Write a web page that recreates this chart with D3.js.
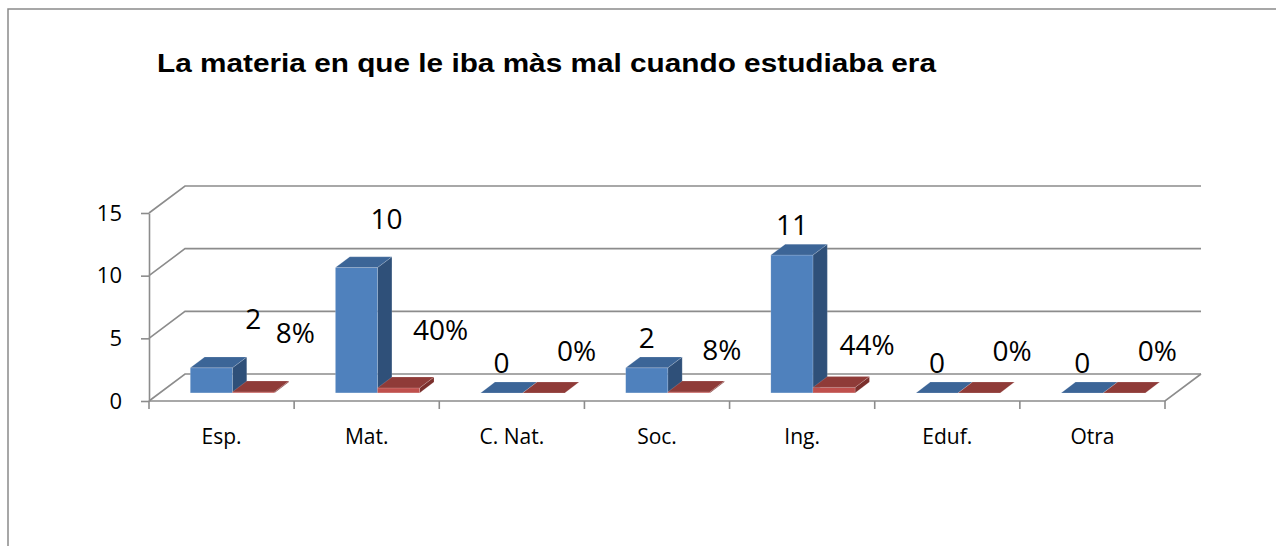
<!DOCTYPE html>
<html>
<head>
<meta charset="utf-8">
<script src="https://cdn.jsdelivr.net/npm/d3@7"></script>
<style>
  body { margin: 0; background: #fff; }
  svg { display: block; }
</style>
</head>
<body>
<svg width="1276" height="546"></svg>
<script>
// values
const categories = ["Esp.", "Mat.", "C. Nat.", "Soc.", "Ing.", "Eduf.", "Otra"];
const counts = [2, 10, 0, 2, 11, 0, 0];
const shares = [0.08, 0.40, 0, 0.08, 0.44, 0, 0];
const yTicks = [0, 5, 10, 15];
const title = "La materia en que le iba màs mal cuando estudiaba era";

const svg = d3.select("svg");
const gridColor = "#8c8c8c";
const labelFont = "'Open Sans', Carlito, Calibri, sans-serif";

// chart frame (only left and top edges are inside the picture)
svg.append("path")
  .attr("d", "M8,546 L8,9 L1276,9")
  .attr("fill", "none")
  .attr("stroke", "#8a8a8a")
  .attr("stroke-width", 1.5);

svg.append("text")
  .attr("x", 157)
  .attr("y", 72)
  .attr("font-family", "'Liberation Sans', Arial, sans-serif")
  .attr("font-weight", "bold")
  .attr("font-size", 26)
  .attr("textLength", 779)
  .attr("lengthAdjust", "spacingAndGlyphs")
  .text(title);

const x = d3.scaleBand().domain(categories).range([149, 1165]);
const y = d3.scaleLinear().domain([0, 15]).range([401, 213]);

// 3d depth of the floor / walls, and where the bars sit inside it
const depth = { dx: 36, dy: -27 };
const barFront = 0.3, barBack = 0.7;
const barW = x.bandwidth() * 0.29;

// back wall gridlines + side wall diagonals
const grid = svg.append("g").attr("fill", "none").attr("stroke", gridColor).attr("stroke-width", 1.6);
yTicks.forEach(t => {
  grid.append("path")
    .attr("d", `M${x.range()[0]},${y(t)} L${x.range()[0] + depth.dx},${y(t) + depth.dy} L${x.range()[1] + depth.dx},${y(t) + depth.dy}`);
});
// floor front edge and right edge
grid.append("path")
  .attr("d", `M${x.range()[0]},${y(0)} L${x.range()[1]},${y(0)} L${x.range()[1] + depth.dx},${y(0) + depth.dy}`);

// value axis
const yAxis = svg.append("g")
  .attr("transform", `translate(${x.range()[0]},0)`)
  .call(d3.axisLeft(y).tickValues(yTicks).tickSize(8).tickSizeOuter(0).tickPadding(19));
yAxis.select(".domain").attr("stroke", gridColor).attr("stroke-width", 1.6);
yAxis.selectAll(".tick line").attr("stroke", gridColor).attr("stroke-width", 1.6);
yAxis.selectAll(".tick text")
  .attr("font-family", labelFont).attr("font-size", 22).attr("fill", "#000");

// category axis: ticks on band edges, labels in the middle
const edges = categories.map(c => x(c)).concat([x.range()[1]]);
svg.append("g").selectAll("line").data(edges).join("line")
  .attr("x1", d => d).attr("x2", d => d)
  .attr("y1", y(0)).attr("y2", y(0) + 8)
  .attr("stroke", gridColor).attr("stroke-width", 1.6);

const xAxis = svg.append("g")
  .attr("transform", `translate(0,${y(0)})`)
  .call(d3.axisBottom(x).tickSize(0).tickPadding(28));
xAxis.select(".domain").remove();
xAxis.selectAll(".tick text")
  .attr("font-family", labelFont).attr("font-size", 21).attr("fill", "#000");

const series = [
  { values: counts, fmt: d3.format("d"), front: "#4f81bd", top: "#3c6597", side: "#2f5079", off: -1,
    labelDx: 0, labelDy: -31, nudge: { "Esp.": [42, -19], "Mat.": [30, -19] } },
  { values: shares, fmt: d3.format(".0%"), front: "#c0504d", top: "#8f3b38", side: "#7b2f2c", off: 0,
    labelDx: 33, labelDy: -43, nudge: { "Esp.": [9, -17], "Mat.": [9, -16] } }
];

const fdx = depth.dx * barFront, fdy = depth.dy * barFront;
const bdx = depth.dx * (barBack - barFront), bdy = depth.dy * (barBack - barFront);

const bars = svg.append("g");
categories.forEach((c, i) => {
  series.forEach(s => {
    const v = s.values[i];
    const x0 = x(c) + x.bandwidth() / 2 + s.off * barW + fdx;
    const x1 = x0 + barW;
    const yT = y(v) + fdy, yB = y(0) + fdy;
    const g = bars.append("g").attr("stroke", "rgba(255,255,255,0.25)").attr("stroke-width", 0.6);
    g.append("path")
      .attr("d", `M${x1},${yT} L${x1 + bdx},${yT + bdy} L${x1 + bdx},${yB + bdy} L${x1},${yB} Z`)
      .attr("fill", s.side);
    g.append("rect")
      .attr("x", x0).attr("y", yT).attr("width", barW).attr("height", yB - yT)
      .attr("fill", s.front);
    g.append("path")
      .attr("d", `M${x0},${yT} L${x1},${yT} L${x1 + bdx},${yT + bdy} L${x0 + bdx},${yT + bdy} Z`)
      .attr("fill", s.top);
  });
});

// data labels
const labels = svg.append("g")
  .attr("font-family", labelFont).attr("font-size", 28).attr("fill", "#000")
  .attr("text-anchor", "middle").attr("dominant-baseline", "central");
categories.forEach((c, i) => {
  series.forEach(s => {
    const v = s.values[i];
    const n = s.nudge[c] || [0, 0];
    const cx = x(c) + x.bandwidth() / 2 + s.off * barW + barW / 2 + fdx;
    labels.append("text")
      .attr("x", cx + s.labelDx + n[0])
      .attr("y", y(v) + fdy + s.labelDy + n[1])
      .text(s.fmt(v));
  });
});
</script>
</body>
</html>
